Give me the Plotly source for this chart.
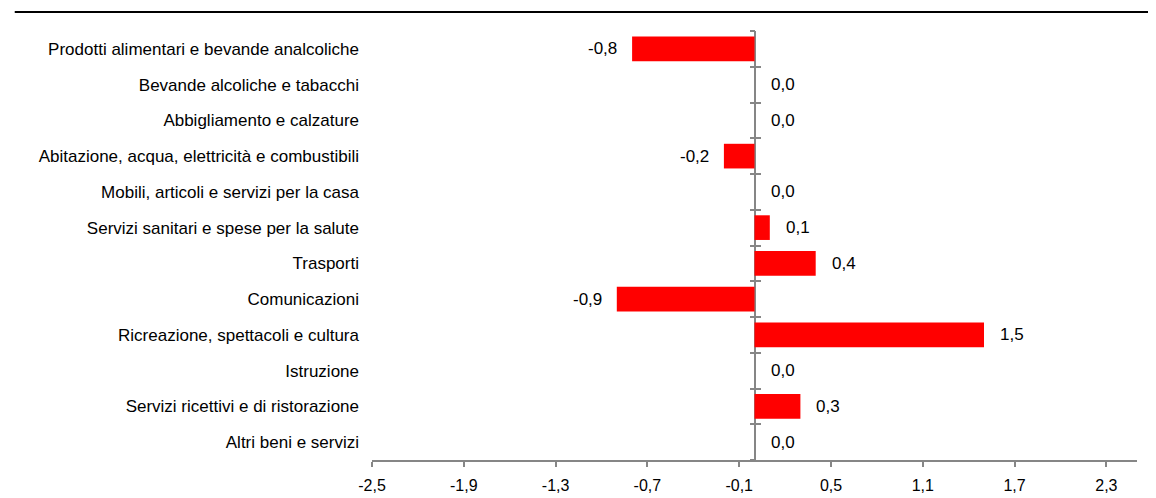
import plotly.graph_objects as go

categories = [
    "Prodotti alimentari e bevande analcoliche",
    "Bevande alcoliche e tabacchi",
    "Abbigliamento e calzature",
    "Abitazione, acqua, elettricità e combustibili",
    "Mobili, articoli e servizi per la casa",
    "Servizi sanitari e spese per la salute",
    "Trasporti",
    "Comunicazioni",
    "Ricreazione, spettacoli e cultura",
    "Istruzione",
    "Servizi ricettivi e di ristorazione",
    "Altri beni e servizi",
]
values = [-0.8, 0.0, 0.0, -0.2, 0.0, 0.1, 0.4, -0.9, 1.5, 0.0, 0.3, 0.0]
x_ticks = [-2.5, -1.9, -1.3, -0.7, -0.1, 0.5, 1.1, 1.7, 2.3]
x_ticktext = ["-2,5", "-1,9", "-1,3", "-0,7", "-0,1", "0,5", "1,1", "1,7", "2,3"]

FONT = "Liberation Sans Narrow, Arial Narrow, Liberation Sans, Arial, sans-serif"
AXIS_GREY = "#868686"
n = len(categories)

fig = go.Figure(go.Bar(
    x=values, y=categories, orientation="h",
    marker_color="#ff0000", marker_line_width=0,
    hoverinfo="skip",
))

# value labels placed beside each bar end
for cat, v in zip(categories, values):
    neg = v < 0
    fig.add_annotation(
        x=v, y=cat, xref="x", yref="y",
        text=f"{v:.1f}".replace(".", ","),
        showarrow=False,
        xanchor="right" if neg else "left",
        xshift=-13 if neg else 14,
        font=dict(family=FONT, size=17, color="#000000"),
    )

boundaries = [i - 0.5 for i in range(n + 1)]
common_y = dict(
    overlaying="y", anchor="free", position=0.5, range=[n - 0.5, -0.5],
    tickvals=boundaries, showticklabels=False, showgrid=False,
    zeroline=False, tickcolor=AXIS_GREY, ticklen=5, tickwidth=2,
    automargin=False,
)

# page body adds an 8px margin, so the figure is sized 8px smaller
fig.update_layout(
    width=1148, height=490,
    paper_bgcolor="white", plot_bgcolor="white",
    margin=dict(l=364, r=19, t=23, b=38, autoexpand=False),
    showlegend=False,
    bargap=0.31,
    font=dict(family=FONT, size=17, color="#000000"),
    xaxis=dict(
        range=[-2.5, 2.5], tickvals=x_ticks, ticktext=x_ticktext,
        showline=True, linecolor=AXIS_GREY, linewidth=2,
        ticks="outside", tickcolor=AXIS_GREY, ticklen=5, tickwidth=2,
        ticklabelstandoff=5, automargin=False,
        showgrid=False, zeroline=True, zerolinecolor=AXIS_GREY, zerolinewidth=2,
        tickfont=dict(family=FONT, size=16, color="#000000"),
    ),
    yaxis=dict(
        type="category", categoryorder="array", categoryarray=categories,
        range=[n - 0.5, -0.5], showgrid=False, zeroline=False,
        showline=False, ticks="", ticklabelstandoff=12, automargin=False,
        tickfont=dict(family=FONT, size=17, color="#000000"),
    ),
    yaxis2=dict(ticks="outside", **common_y),
    yaxis3=dict(ticks="inside", **common_y),
    shapes=[dict(
        type="line", xref="paper", yref="paper",
        x0=-0.467, x1=1.03, y0=1.044, y1=1.044,
        line=dict(color="#000000", width=2),
    )],
)

# invisible traces so the overlay tick axes get drawn
fig.add_trace(go.Scatter(x=[None], y=[None], yaxis="y2", showlegend=False, hoverinfo="skip"))
fig.add_trace(go.Scatter(x=[None], y=[None], yaxis="y3", showlegend=False, hoverinfo="skip"))

fig.write_html("out.html")
